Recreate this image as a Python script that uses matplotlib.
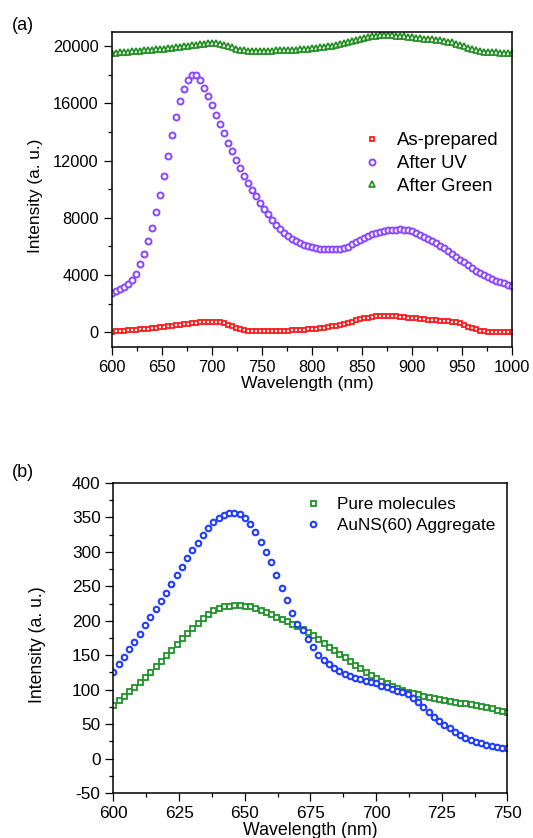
import numpy as np
import matplotlib
matplotlib.use("Agg")
import matplotlib.pyplot as plt
from matplotlib.ticker import MultipleLocator

plt.rcParams["font.family"] = ["Liberation Sans", "DejaVu Sans"]
plt.rcParams["axes.unicode_minus"] = False

# ---------------- (a) emission spectra, 600-1000 nm ----------------
wl_a = np.arange(600, 1001, 4)

as_prepared = [
    60, 80, 100, 120, 140, 160, 185, 210, 235, 260,
    285, 315, 345, 380, 415, 450, 485, 520, 555, 590,
    630, 665, 695, 715, 730, 740, 735, 700, 630, 530,
    420, 310, 210, 150, 115, 100, 95, 95, 95, 100,
    105, 110, 115, 120, 130, 140, 150, 165, 180, 200,
    225, 255, 290, 330, 370, 420, 470, 530, 600, 670,
    750, 830, 900, 970, 1030, 1080, 1110, 1130, 1140, 1140,
    1130, 1110, 1090, 1060, 1030, 1000, 970, 940, 910, 880,
    860, 840, 820, 800, 780, 750, 700, 620, 520, 400,
    290, 200, 130, 90, 60, 40, 30, 20, 15, 10,
    5,
]

after_uv = [
    2750, 2900, 3050, 3200, 3380, 3650, 4100, 4750, 5500, 6350,
    7300, 8400, 9600, 10950, 12350, 13750, 15050, 16150, 17000, 17600,
    17950, 17950, 17600, 17100, 16500, 15850, 15200, 14550, 13900, 13250,
    12650, 12050, 11500, 10950, 10450, 9950, 9500, 9050, 8650, 8250,
    7850, 7500, 7200, 6950, 6750, 6550, 6380, 6230, 6110, 6010,
    5940, 5880, 5840, 5810, 5800, 5800, 5810, 5840, 5900, 5990,
    6150, 6300, 6450, 6600, 6730, 6850, 6950, 7030, 7090, 7130,
    7160, 7180, 7190, 7180, 7140, 7060, 6950, 6830, 6690, 6540,
    6380, 6220, 6050, 5870, 5680, 5480, 5280, 5080, 4880, 4680,
    4490, 4310, 4140, 3990, 3850, 3730, 3620, 3520, 3430, 3340,
    3260,
]

after_green = [
    19500, 19530, 19560, 19590, 19610, 19630, 19650, 19670, 19690, 19710,
    19730, 19760, 19790, 19820, 19850, 19880, 19910, 19940, 19980, 20020,
    20060, 20100, 20140, 20170, 20190, 20200, 20190, 20160, 20100, 20010,
    19900, 19800, 19730, 19690, 19670, 19660, 19660, 19660, 19660, 19670,
    19680, 19690, 19700, 19710, 19720, 19730, 19750, 19770, 19790, 19810,
    19840, 19870, 19900, 19940, 19980, 20020, 20070, 20120, 20180, 20250,
    20320, 20400, 20480, 20560, 20630, 20690, 20730, 20750, 20760, 20760,
    20750, 20730, 20700, 20670, 20640, 20610, 20580, 20550, 20520, 20490,
    20460, 20430, 20400, 20360, 20310, 20250, 20170, 20080, 19980, 19880,
    19790, 19710, 19650, 19610, 19580, 19560, 19550, 19540, 19530, 19520,
    19510,
]

# ---------------- (b) pure molecules vs aggregate, 600-750 nm ----------------
wl_b = np.arange(600, 751, 2)

pure_molecules = [
    78, 85, 91, 98, 104, 111, 118, 126, 134, 142,
    150, 158, 166, 175, 183, 190, 197, 204, 210, 215,
    219, 221, 222, 223, 223, 222, 221, 219, 216, 213,
    210, 206, 203, 199, 196, 192, 188, 184, 179, 174,
    168, 162, 157, 152, 147, 142, 136, 131, 126, 121,
    117, 113, 109, 105, 102, 100, 97, 95, 93, 91,
    89, 88, 86, 85, 83, 82, 81, 80, 79, 78,
    76, 75, 73, 71, 69, 68,
]

aggregate = [
    126, 137, 148, 159, 169, 181, 194, 205, 217, 229,
    241, 253, 266, 278, 291, 303, 313, 324, 335, 343,
    349, 353, 356, 357, 355, 349, 341, 329, 315, 300,
    285, 267, 248, 230, 212, 196, 186, 174, 162, 151,
    143, 137, 132, 127, 123, 120, 117, 115, 113, 111,
    109, 106, 104, 101, 98, 96, 93, 88, 82, 75,
    68, 61, 55, 49, 44, 39, 34, 30, 27, 24,
    22, 20, 18, 17, 16, 16,
]


def style_axes(ax, tick_size):
    for s in ax.spines.values():
        s.set_linewidth(1.1)
    ax.tick_params(which="both", direction="out", top=False, right=False,
                   width=0.9, labelsize=tick_size)
    ax.tick_params(which="major", length=5.8, pad=3.5)
    ax.tick_params(which="minor", length=3.2)


fig = plt.figure(figsize=(5.33, 8.38), dpi=100)

# ---- panel (a) ----
ax1 = fig.add_axes([0.2096, 0.5863, 0.7505, 0.3759])
ax1.plot(wl_a, as_prepared, ls="none", marker="s", ms=3.0, mew=1.3,
         mfc="white", mec="#ff1e1e", label="As-prepared")
ax1.plot(wl_a, after_uv, ls="none", marker="o", ms=4.3, mew=1.4,
         mfc="white", mec="#8a45ff", label="After UV")
ax1.plot(wl_a, after_green, ls="none", marker="^", ms=4.0, mew=1.2,
         mfc="white", mec="#1f8c1f", label="After Green")
ax1.set_xlim(600, 1000)
ax1.set_ylim(-1000, 21000)
ax1.xaxis.set_major_locator(MultipleLocator(50))
ax1.xaxis.set_minor_locator(MultipleLocator(25))
ax1.yaxis.set_major_locator(MultipleLocator(4000))
ax1.yaxis.set_minor_locator(MultipleLocator(2000))
style_axes(ax1, 11.8)
ax1.set_xlabel("Wavelength (nm)", fontsize=12.6)
ax1.set_ylabel("Intensity (a. u.)", fontsize=12.4)
ax1.xaxis.set_label_coords(0.49, -0.092)
ax1.yaxis.set_label_coords(-0.172, 0.48)
ax1.legend(loc="upper left", bbox_to_anchor=(0.627, 0.68), frameon=False,
           fontsize=13.3, handlelength=1.0, handletextpad=0.875,
           labelspacing=0.3, borderpad=0, borderaxespad=0, numpoints=1)

# ---- panel (b) ----
ax2 = fig.add_axes([0.2129, 0.0537, 0.7392, 0.3699])
ax2.plot(wl_b, pure_molecules, ls="none", marker="s", ms=3.6, mew=1.3,
         mfc="white", mec="#22922a", label="Pure molecules")
ax2.plot(wl_b, aggregate, ls="none", marker="o", ms=4.0, mew=1.5,
         mfc="white", mec="#1f3cff", label="AuNS(60) Aggregate")
ax2.set_xlim(600, 750)
ax2.set_ylim(-50, 400)
ax2.xaxis.set_major_locator(MultipleLocator(25))
ax2.xaxis.set_minor_locator(MultipleLocator(12.5))
ax2.yaxis.set_major_locator(MultipleLocator(50))
ax2.yaxis.set_minor_locator(MultipleLocator(25))
style_axes(ax2, 12.4)
ax2.set_xlabel("Wavelength (nm)", fontsize=12.8)
ax2.set_ylabel("Intensity (a. u.)", fontsize=12.7)
ax2.xaxis.set_label_coords(0.50, -0.094)
ax2.yaxis.set_label_coords(-0.171, 0.48)
ax2.legend(loc="upper left", bbox_to_anchor=(0.484, 0.955), frameon=False,
           fontsize=12.3, handlelength=1.0, handletextpad=0.9,
           labelspacing=0.33, borderpad=0, borderaxespad=0, numpoints=1)

fig.text(0.022, 0.969, "(a)", fontsize=13, va="center", ha="left")
fig.text(0.022, 0.436, "(b)", fontsize=13, va="center", ha="left")

fig.savefig("out.png", dpi=100)
